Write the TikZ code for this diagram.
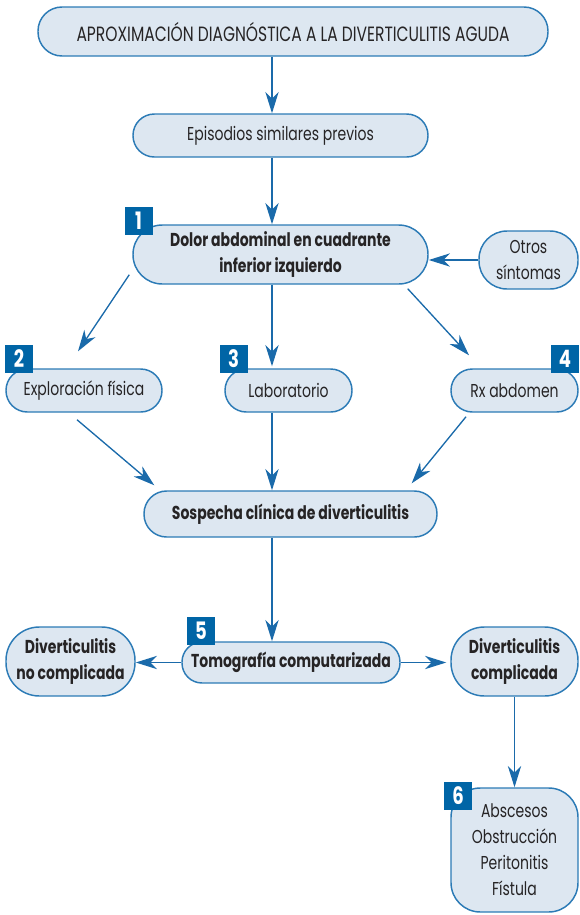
\documentclass[tikz,border=0pt]{standalone}
\usepackage{fontspec}
\setmainfont{Poppins}[FakeStretch=0.75]
\usepackage{xcolor}
\usepackage{tikz}
\usetikzlibrary{arrows.meta,calc}
\definecolor{boxfill}{HTML}{DDE7F1}
\definecolor{boxline}{HTML}{2C7BB6}
\definecolor{arrowblue}{HTML}{1A6AAA}
\definecolor{badgeblue}{HTML}{0065A6}
\definecolor{inktext}{HTML}{262425}
\begin{document}
\begin{tikzpicture}[x=0.75pt,y=-0.75pt,
  box/.style={draw=boxline,fill=boxfill,line width=1.1pt,align=center,text=inktext,inner sep=1pt,font=\fontsize{14}{19.5}\selectfont},
  bbox/.style={box,font=\fontsize{14}{19.5}\selectfont\bfseries},
  num/.style={fill=badgeblue,text=white,font=\fontsize{18}{18}\selectfont\bfseries,minimum size=21pt,inner sep=0pt},
  arr/.style={draw=arrowblue,line width=1pt,-{Stealth[length=16pt,width=10pt,inset=5pt]}}]
\useasboundingbox (0,0) rectangle (580,915);
% main column
\coordinate (axis) at (272,0);
\node[box,font=\fontsize{15.5}{19.5}\selectfont,minimum width=382.5pt,minimum height=36.75pt,rounded corners=18pt] (title) at (293,31.5)
  {APROXIMACIÓN DIAGNÓSTICA A LA DIVERTICULITIS AGUDA};
\node[box,minimum width=221.25pt,minimum height=32.25pt,rounded corners=16pt] (epi) at (280.5,135.5)
  {Episodios similares previos};
\node[bbox,minimum width=221.25pt,minimum height=44.25pt,rounded corners=22pt] (dolor) at (280.5,254.5)
  {Dolor abdominal en cuadrante\\inferior izquierdo};
\node[box,minimum width=74.25pt,minimum height=43.5pt,rounded corners=21pt] (otros) at (528.5,260)
  {Otros\\síntomas};
\draw[arr] (title.south -| axis) -- (epi.north -| axis);
\draw[arr] (epi.south -| axis) -- (dolor.north -| axis);
\draw[arr] (otros.west) -- (otros.west -| dolor.east);
% studies
\node[box,minimum width=117pt,minimum height=32.25pt,rounded corners=16pt] (explo) at (84,390.5)
  {Exploración física};
\node[box,minimum width=95.25pt,minimum height=32.25pt,rounded corners=16pt] (lab) at (288.5,390.5)
  {Laboratorio};
\node[box,minimum width=95.25pt,minimum height=32.25pt,rounded corners=16pt] (rx) at (514.5,390.5)
  {Rx abdomen};
\draw[arr] ($(dolor.south west)+(-3,-10)$) -- ($(explo.north)+(-6,-17)$);
\draw[arr] (dolor.south -| axis) -- ($(lab.north -| axis)+(0,-2)$);
\draw[arr] ($(dolor.south east)+(-21,4)$) -- ($(rx.north)+(-45.5,-13)$);
% suspicion and CT
\node[bbox,minimum width=219.75pt,minimum height=34.5pt,rounded corners=17pt] (sosp) at (290.5,514)
  {Sospecha clínica de diverticulitis};
\draw[arr] ($(explo.south)+(-7,7)$) -- ($(sosp.north west)+(11,-5)$);
\draw[arr] (lab.south -| axis) -- (sosp.north -| axis);
\draw[arr] ($(rx.south)+(-48.5,4)$) -- ($(sosp.north east)+(-26,-7)$);
\node[bbox,minimum width=163.5pt,minimum height=30.75pt,rounded corners=15pt] (tomo) at (291,662.5)
  {Tomografía computarizada};
\draw[arr] (sosp.south -| axis) -- (tomo.north -| axis);
\node[bbox,minimum width=96.75pt,minimum height=51.75pt,rounded corners=25pt] (nocomp) at (70.5,661.5)
  {Diverticulitis\\no complicada};
\node[bbox,minimum width=95.25pt,minimum height=51.75pt,rounded corners=25pt] (comp) at (514.5,661.5)
  {Diverticulitis\\complicada};
\draw[arr] (tomo.west) -- (tomo.west -| nocomp.east);
\draw[arr,shorten >=3pt] (tomo.east) -- (tomo.east -| comp.west);
% complications
\node[box,minimum width=95.25pt,minimum height=93pt,rounded corners=22pt] (compl) at (514.5,850)
  {Abscesos\\Obstrucción\\Peritonitis\\Fístula};
\draw[arr] (comp.south) -- (compl.north);
% numbered badges
\node[num] (n1) at (138.5,221) {1};
\node[num] (n2) at (19,358.5) {2};
\node[num] (n3) at (233.5,358.5) {3};
\node[num] (n4) at (565,358.5) {4};
\node[num] (n5) at (201,630.5) {5};
\node[num] (n6) at (458,796) {6};
\end{tikzpicture}
\end{document}
